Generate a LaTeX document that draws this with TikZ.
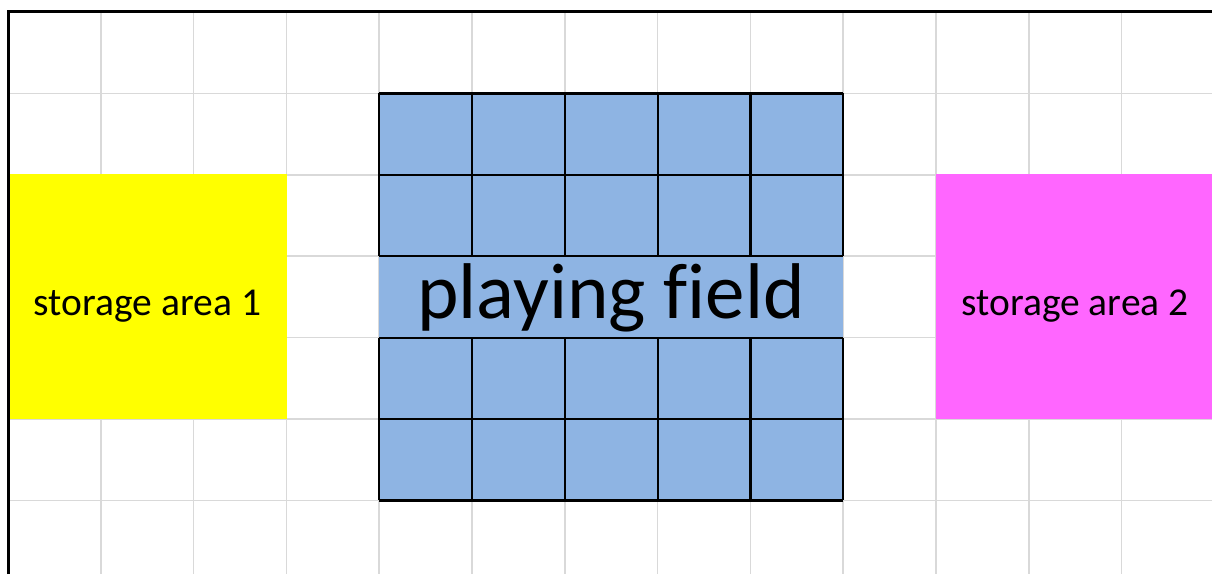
\documentclass[tikz,border=0pt]{standalone}
\usepackage{fontspec}
\setmainfont{Carlito}[Ligatures=CommonOff]
\definecolor{gridgray}{HTML}{D9D9D9}
\definecolor{fieldblue}{HTML}{8EB4E3}
\definecolor{storeyellow}{HTML}{FFFF00}
\definecolor{storepink}{HTML}{FF66FF}
\tikzset{
  gridline/.style={draw=gridgray, line width=1.6pt},
  fieldline/.style={draw=black, line width=2.2pt},
  borderline/.style={draw=black, line width=3.2pt},
  bigtext/.style={font=\fontsize{79}{79}\selectfont, inner sep=0pt, anchor=base},
  smalltext/.style={font=\fontsize{39.5}{40}\selectfont, inner sep=0pt, anchor=base}
}
\begin{document}
\begin{tikzpicture}[x=1pt,y=-1pt]
\useasboundingbox (0,0) rectangle (1212,574);
\fill[white] (0,0) rectangle (1212,574);
% light grid
\foreach \i in {1,...,13} {
  \draw[gridline] ({8+92.8*\i},12) -- ({8+92.8*\i},574);
}
\foreach \j in {1,...,6} {
  \draw[gridline] (8,{12+81.4*\j}) -- (1212,{12+81.4*\j});
}
% storage areas
\fill[storeyellow] (8,173.8) rectangle (287.2,419);
\fill[storepink] (936,173.8) rectangle (1212,419);
% playing field
\fill[fieldblue] (379.2,93.4) rectangle (843.2,500.4);
\foreach \j in {1,...,6} {
  \draw[fieldline] (379.2,{12+81.4*\j}) -- (843.2,{12+81.4*\j});
}
\foreach \i in {4,...,9} {
  \draw[fieldline] ({8+92.8*\i},93.4) -- ({8+92.8*\i},256.2);
  \draw[fieldline] ({8+92.8*\i},337.6) -- ({8+92.8*\i},500.4);
}
% border
\draw[borderline] (8.5,574) -- (8.5,11.5) -- (1212,11.5);
% labels
\node[bigtext] (field) at (611.2,318) {playing field};
\node[smalltext] (store1) at (147.5,315) {storage area 1};
\node[smalltext] (store2) at (1075,315) {storage area 2};
\end{tikzpicture}
\end{document}
